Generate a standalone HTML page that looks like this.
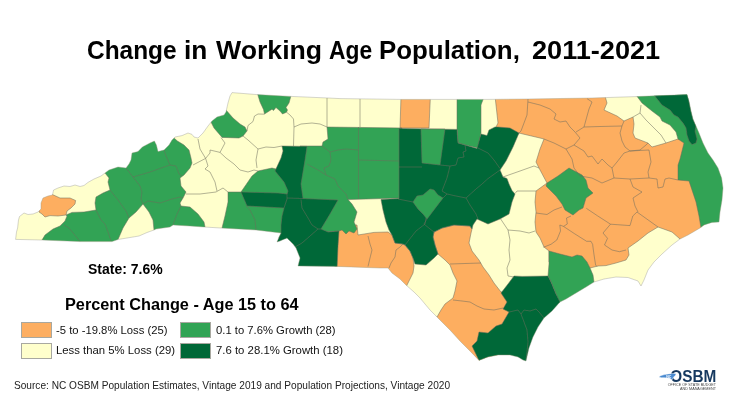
<!DOCTYPE html>
<html><head><meta charset="utf-8"><title>Change in Working Age Population</title>
<style>
html,body{margin:0;padding:0;background:#fff;}
body{width:740px;height:416px;position:relative;overflow:hidden;font-family:"Liberation Sans",sans-serif;color:#000;}
.t{position:absolute;white-space:nowrap;transform-origin:0 0;line-height:1;}
.ttl{font-weight:bold;font-size:26px;top:36.7px;color:#000;}
.sw{position:absolute;width:30.8px;height:15.6px;border:0.7px solid #a8a8a0;box-sizing:border-box;}
.lg{font-size:11px;color:#111;}
</style></head><body>
<svg width="740" height="416" viewBox="0 0 740 416" style="position:absolute;left:0;top:0">
<defs><clipPath id="st"><polygon points="15.6,239.4 16.5,232 17.6,228 18.5,220 19.5,216.5 24,213 28,214.5 33,214 38,212 41,209 41,203 43,198 48,196 52.4,195 53.6,190 58,188 64,186 70,186.5 75,185 80,186.5 84,185.5 88,182.4 94,179 101,176 105,173 109,170 118,167 126,168 129,164 131,160 132,153 138,151.6 142.4,147 150,143 154.4,141 156.4,145 158,151.6 164,150 169,145 172,140 175,137 182,135.6 188,133 192,134.4 194,137 198,138 203,133 208,126 212,121 217,117 224,115 226,112 228,103 230,96 232,92.6 257,94.6 291,96.4 328,98 340,98.6 400,99.4 488,99.4 528,99 592,98 636,96.6 687,94.6 689,101 691,111 693,119 696,126 699,133 703,143 708,153 713,160 718,168 721.6,178 723,188 722,200 720,212 719,222 712,222.4 704,225 700,228 688,235 680,239 672,245 662,254 654,262 648,270 644,280 641,286 638,281 628,277.5 616,277 604,279 594,282 586,287 576,293 566,299 560,302 552,311 544,318 538,327 533,337 529,348 526,361 523,360 518,357 510,355 498,355 488,357 479,360.4 470,351 460,341 450,330 437,317 430,310 420,298 414,292 406,285 400,279 392,273 388,268 380,268 336,266.4 298,266 300,258 296,248 293,244 287,238 280,241 277,242 279,237 281,233 256,230 221,228 204,227 190,226 173,225 170,227 156,229 154,230 147,232.5 139,236 130,237.5 118,239.5 112,241.6 80,241.6 42,240"/></clipPath><filter id="bl" x="-5%" y="-5%" width="110%" height="110%"><feGaussianBlur stdDeviation="0.45"/></filter></defs>
<g filter="url(#bl)">
<g clip-path="url(#st)">
<polygon points="15.6,239.4 16.5,232 17.6,228 18.5,220 19.5,216.5 24,213 28,214.5 33,214 38,212 41,209 41,203 43,198 48,196 52.4,195 53.6,190 58,188 64,186 70,186.5 75,185 80,186.5 84,185.5 88,182.4 94,179 101,176 105,173 109,170 118,167 126,168 129,164 131,160 132,153 138,151.6 142.4,147 150,143 154.4,141 156.4,145 158,151.6 164,150 169,145 172,140 175,137 182,135.6 188,133 192,134.4 194,137 198,138 203,133 208,126 212,121 217,117 224,115 226,112 228,103 230,96 232,92.6 257,94.6 291,96.4 328,98 340,98.6 400,99.4 488,99.4 528,99 592,98 636,96.6 687,94.6 689,101 691,111 693,119 696,126 699,133 703,143 708,153 713,160 718,168 721.6,178 723,188 722,200 720,212 719,222 712,222.4 704,225 700,228 688,235 680,239 672,245 662,254 654,262 648,270 644,280 641,286 638,281 628,277.5 616,277 604,279 594,282 586,287 576,293 566,299 560,302 552,311 544,318 538,327 533,337 529,348 526,361 523,360 518,357 510,355 498,355 488,357 479,360.4 470,351 460,341 450,330 437,317 430,310 420,298 414,292 406,285 400,279 392,273 388,268 380,268 336,266.4 298,266 300,258 296,248 293,244 287,238 280,241 277,242 279,237 281,233 256,230 221,228 204,227 190,226 173,225 170,227 156,229 154,230 147,232.5 139,236 130,237.5 118,239.5 112,241.6 80,241.6 42,240" fill="#ffffcc"/>
<polygon points="39,212 39,200 44,194 52.4,194.5 60,198 70,198 75.6,200.5 75,204 71,208 67,211 66,215 58,216 50,215.6 45,217 42,214" fill="#fdae61" stroke="#6e6e5e" stroke-width="0.7" stroke-opacity="0.75" stroke-linejoin="round"/>
<polygon points="401,96 430.4,96 429,128 400,128" fill="#fdae61" stroke="#6e6e5e" stroke-width="0.7" stroke-opacity="0.75" stroke-linejoin="round"/>
<polygon points="335,225 357,225 358,235 374,232.4 388,232 392,235 395,243 403,244 405,245 410,251 413,258 414,266 413,273 406,287 400,290 335,275" fill="#fdae61" stroke="#6e6e5e" stroke-width="0.7" stroke-opacity="0.75" stroke-linejoin="round"/>
<polygon points="434,232 442,228 454,225 470,226 472,229 471,233 469,243 472,251 479,260 483,267 489,275 494,283 501,292 520,292 520,340 485,370 465,360 430,318 437,317 441,310 445,304 453,298 455,291 457,281 453,273 450,265 445,260 438,254 435,245 433,237" fill="#fdae61" stroke="#6e6e5e" stroke-width="0.7" stroke-opacity="0.75" stroke-linejoin="round"/>
<polygon points="495,96 605,96 607,103 604,110 617,116 624,121 633,117 634,124 633,133 635,138 648,143 652,147 666,143 678,139 692,139 705,160 705,232 690,245 680,239 672,232 658,227 648,233 638,241 628,248 629,255 626,260 616,263 606,265.6 598,266 590,268 580,270 549,262 549,251 544,247 540,238 536,232 535,222 536,212 535,202 536,191 547,183 539,168 536,162 540,149 544,139 540,138 523,134 519,133 515,138 500,135 496,127 498,123" fill="#fdae61" stroke="#6e6e5e" stroke-width="0.7" stroke-opacity="0.75" stroke-linejoin="round"/>
<polygon points="105,173 109,178 108,182 110,190 103,193 96,197 95,203 96,210 84,212 72,212.4 66,215 67,216 65,221 60,226 53,229 45,235 42,240 42,246 114,246 118,239.5 123,228 129,218 136,212 143,204 149,212 153,220 154,230 154,236 175,232 205,232 205,227 204,222 198,214 190,207 181,206 180,203 183,198 186,192 181,186 180,178 184,175 190,168 192,163 191,158 189,150 184,145 177.4,141 174,138 172,132 150,135 125,155 100,170" fill="#31a354" stroke="#6e6e5e" stroke-width="0.7" stroke-opacity="0.75" stroke-linejoin="round"/>
<polygon points="210,120 216,114 226,110 233,118 240,124 245,127 247,131 243,136 239,138 222,137.4 220,135 214,128" fill="#31a354" stroke="#6e6e5e" stroke-width="0.7" stroke-opacity="0.75" stroke-linejoin="round"/>
<polygon points="257,92 291.5,94 289,103 286,107.5 287.5,110 286.5,112.2 282.5,114 280,111 276,107.5 273.5,110.5 272,109.2 270,110.5 264.5,114 263.5,109.5 260,102" fill="#31a354" stroke="#6e6e5e" stroke-width="0.7" stroke-opacity="0.75" stroke-linejoin="round"/>
<polygon points="228,192 241,192 252,176 258,171 272,168 280,170 292,195 290,240 256,234 221,232 225,216 228,202" fill="#31a354" stroke="#6e6e5e" stroke-width="0.7" stroke-opacity="0.75" stroke-linejoin="round"/>
<polygon points="327,127 402,128 402,198 348,199.6 352,204 357,212 354,222 357,229 354,233 349,231 346,234 342,230 339,231 328,232 318,232 300,200 300,146 322,146 323,142 328,139" fill="#31a354" stroke="#6e6e5e" stroke-width="0.7" stroke-opacity="0.75" stroke-linejoin="round"/>
<polygon points="457,97 484,97 481,105 481,133 478,148 465,145 458,143 457,129" fill="#31a354" stroke="#6e6e5e" stroke-width="0.7" stroke-opacity="0.75" stroke-linejoin="round"/>
<polygon points="547,183 546,186 556,196 562,204 565,210 573,215 579,210 583,208 586,198 593,193 588,188 586,180 582,175 569,168 558,176" fill="#31a354" stroke="#6e6e5e" stroke-width="0.7" stroke-opacity="0.75" stroke-linejoin="round"/>
<polygon points="549,251 560,254 572,257 577,255 582,256 587,262 590,268 593,275 594,282 600,290 560,305 556,294 551,282 548,276 549,264" fill="#31a354" stroke="#6e6e5e" stroke-width="0.7" stroke-opacity="0.75" stroke-linejoin="round"/>
<polygon points="636,95 690,90 730,170 730,225 701,228 699,216 696,202 692,190 689,181 678,180 678,165 680,159 682,151 684,143 678,139 676,132 670,125 662,121 660,117 652,111 642,103" fill="#31a354" stroke="#6e6e5e" stroke-width="0.7" stroke-opacity="0.75" stroke-linejoin="round"/>
<polygon points="282,146 307,146.4 305,160 303,172 301,184 303,198.5 338,200 330,214 321,229 328,232 339,231 338,246 337,270 290,270 275,245 281,233 281,225 282,216 284,208 247,206 241,192 278,193 287,194 288,191 284,182 275,171 281,158 283,151" fill="#006837" stroke="#6e6e5e" stroke-width="0.7" stroke-opacity="0.75" stroke-linejoin="round"/>
<polygon points="399,128.5 457,129.4 458,143 465,145 477,148.5 481,134 487,135.5 489,130 495,127 498,127 510,128 519,133 513,147 506,161 500,170 503,177 507,178.5 509,184 512,190.5 515,194 512,202 509,214 500,219 488,224 477,219 473,225 472,229 470,226 454,225 442,228 434,232 433,237 435,245 438,254 434,258 426,265 415,264 413,258 410,251 405,245 403,244 395,243 392,235 389,230 386,222 383,210 381,199.6 399,198.5" fill="#006837" stroke="#6e6e5e" stroke-width="0.7" stroke-opacity="0.75" stroke-linejoin="round"/>
<polygon points="514,276 522,276.4 548,276 551,282 556,294 560,302 560,310 530,370 475,365 479,360.4 472,346 477,341 479,332 488,333 496,326 502,324 509,312 503,309 507,302 501,293 508,284" fill="#006837" stroke="#6e6e5e" stroke-width="0.7" stroke-opacity="0.75" stroke-linejoin="round"/>
<polygon points="654,95 688,93 689,101 691,111 693,119 696,126 695,131 697,139 696,143 692,144.6 689,141 687,135 686,128 683,123 678,117 674,115 670,110 662,105" fill="#006837" stroke="#6e6e5e" stroke-width="0.7" stroke-opacity="0.75" stroke-linejoin="round"/>
<polygon points="421,129 445,129 440,165 422,163" fill="#31a354" stroke="#6e6e5e" stroke-width="0.7" stroke-opacity="0.75" stroke-linejoin="round"/>
<polygon points="413,202 417,196 423,195 430,189 434,190 438,195 443,198 427,219 423,214 418,209" fill="#31a354" stroke="#6e6e5e" stroke-width="0.7" stroke-opacity="0.75" stroke-linejoin="round"/>
<g fill="none" stroke="#6e6e5e" stroke-width="0.7" stroke-opacity="0.75" stroke-linejoin="round">
<polyline points="80,241.6 74,234 69,228 64,225"/>
<polyline points="111,241 108,232 105,224 101,220 96,210"/>
<polyline points="110,190 118,200 126,211 129,218"/>
<polyline points="126,168 133,177 140,186 142,192 141,199 143,204"/>
<polyline points="133,177 150,172 164,167 170,165"/>
<polyline points="164,150 166,156 170,165 176,166 179,174 182,176"/>
<polyline points="143,204 148,201 160,203 172,199 180,197 183,198"/>
<polyline points="181,206 177,214 174,222 173,226"/>
<polyline points="198,139 200,149 205.6,158.4 193,165"/>
<polyline points="205.6,158.4 210,153 210,150 220,152.4 225,143 221,137.6"/>
<polyline points="220,152.4 226,158 234,164 240,170 248,172 254,170 258,171"/>
<polyline points="205.6,158.4 208,166 205,169 210,172 215,182 217,191"/>
<polyline points="247,131 248,125.5 253,121.5 254.5,116 258,114 264.5,114.2"/>
<polyline points="243,136 248,140 258,149 256,160 257,168"/>
<polyline points="258,149 266,147 274,147.5 282,146"/>
<polyline points="286.5,112.2 290,115 293.5,119 294,127 293.5,146"/>
<polyline points="294,127 301,124 312,123 320,124 327,127"/>
<polyline points="327,98 327,127"/>
<polyline points="360,98.6 360,127"/>
<polyline points="358.5,127 358.5,198.5"/>
<polyline points="330,152 338,150 346,149 358.5,150"/>
<polyline points="358.5,160 399,161"/>
<polyline points="322,146 330,152 331,160 329,166 324,168 326,175"/>
<polyline points="307,164 318,170 326,175 335,179 338,186 346,194 348,199.6"/>
<polyline points="287,198 303,198.5"/>
<polyline points="301,199.6 302,208 308,218 312,225 318,229 321,229"/>
<polyline points="318,229 310,236 302,243 295,247"/>
<polyline points="287,193 287,199 284,208"/>
<polyline points="246,206 250,210 255,220 256,230"/>
<polyline points="186,194 200,194 216,192 223,188 228,192"/>
<polyline points="399,167 422,167"/>
<polyline points="440,165 450,166 456,165"/>
<polyline points="465,145 466,151 463,152 464,157 458,158 456,165"/>
<polyline points="450,166 447,178 442,191 447,194 443,198"/>
<polyline points="447,194 456,196 466,198"/>
<polyline points="478,148 488,153 494,160 500,168.5"/>
<polyline points="500,170 488,178.6 482,184 476,189 466,198"/>
<polyline points="466,198 470,205 476,214 478,219"/>
<polyline points="398,199 413,202"/>
<polyline points="427,219 424,224 430,229 434,232"/>
<polyline points="426,218 425,224 416,231 405,245"/>
<polyline points="503,177 520,171 534,166 539,168"/>
<polyline points="515,193.5 517,191 536,191"/>
<polyline points="500,218 508,230 520,231 529,233 535,231"/>
<polyline points="508,230 510,240 509,250 510,260 507,268 508,276 514,277"/>
<polyline points="509,312 518,310 521,314 524,310 530,311 536,309 539,312 544,318"/>
<polyline points="521,314 524,322 527,330 528,342 527,352 526,360"/>
<polyline points="528,99 527,115 521,131 519,133"/>
<polyline points="528,102 540,105 550,109 556,114 554,119 560,122 566,121 570,127 575,132 580,138 574,145"/>
<polyline points="587,98.6 592,102 589,109 584,127 576,132"/>
<polyline points="584,127 600,126.5 622,126 624,121"/>
<polyline points="544,139 554,143 566,149 574,145"/>
<polyline points="566,149 572,159 574,168"/>
<polyline points="574,145 584,151 588,157 592,156 598,164 602,159 608,165 612,168 617,162 624,153 630,151"/>
<polyline points="622,126 620,133 622,141 625,147 630,151 640,150 646,145 648,143"/>
<polyline points="630,151 649,150 651,162 648,172 649,178"/>
<polyline points="612,168 614,178"/>
<polyline points="574,168 580,176 592,178 602,183 614,178 630,179 649,178 657,179 658,188 663,187 665,179 669,178 678,180"/>
<polyline points="630,179 633,187 642,192 633,198 635,206 638,212"/>
<polyline points="641,105 640,113 633,117"/>
<polyline points="640,113 646,120 654,128 661,135 666,143"/>
<polyline points="453,300 462,301 470,302 477,306 484,309 494,310 503,308"/>
<polyline points="450,264 465,263.5 481,263"/>
<polyline points="403,244 400,247 396,250 395,257 391,263 389,268"/>
<polyline points="368,236 370,244 372,250 370,258 368,266.5"/>
<polyline points="586.3,208.3 597.5,215.8 610.5,224.2 630,225.6 632.8,216 637,212 658,227"/>
<polyline points="610.5,224.2 603,233 607.5,238.3 604.5,245 612,250 619.4,251.7 626,250"/>
<polyline points="536,213 547,214.5 554,210 562,207"/>
<polyline points="571,216 566.5,218 567.3,224 563.5,226.4 559.8,225 560.5,231 556.8,240 551,244.3 543.4,247.3"/>
<polyline points="563.5,226.4 574.7,233.8 586.6,241.3 591,241.3 592.6,244.3 594,254.7 595.6,265 597,266.6"/>
</g>
</g>
<polygon points="15.6,239.4 16.5,232 17.6,228 18.5,220 19.5,216.5 24,213 28,214.5 33,214 38,212 41,209 41,203 43,198 48,196 52.4,195 53.6,190 58,188 64,186 70,186.5 75,185 80,186.5 84,185.5 88,182.4 94,179 101,176 105,173 109,170 118,167 126,168 129,164 131,160 132,153 138,151.6 142.4,147 150,143 154.4,141 156.4,145 158,151.6 164,150 169,145 172,140 175,137 182,135.6 188,133 192,134.4 194,137 198,138 203,133 208,126 212,121 217,117 224,115 226,112 228,103 230,96 232,92.6 257,94.6 291,96.4 328,98 340,98.6 400,99.4 488,99.4 528,99 592,98 636,96.6 687,94.6 689,101 691,111 693,119 696,126 699,133 703,143 708,153 713,160 718,168 721.6,178 723,188 722,200 720,212 719,222 712,222.4 704,225 700,228 688,235 680,239 672,245 662,254 654,262 648,270 644,280 641,286 638,281 628,277.5 616,277 604,279 594,282 586,287 576,293 566,299 560,302 552,311 544,318 538,327 533,337 529,348 526,361 523,360 518,357 510,355 498,355 488,357 479,360.4 470,351 460,341 450,330 437,317 430,310 420,298 414,292 406,285 400,279 392,273 388,268 380,268 336,266.4 298,266 300,258 296,248 293,244 287,238 280,241 277,242 279,237 281,233 256,230 221,228 204,227 190,226 173,225 170,227 156,229 154,230 147,232.5 139,236 130,237.5 118,239.5 112,241.6 80,241.6 42,240" fill="none" stroke="#9a9a8a" stroke-width="0.6" stroke-opacity="0.7"/>
</g>
</svg>
<svg id="logo" width="90" height="40" viewBox="650 360 90 40" style="position:absolute;left:650px;top:360px">
<g filter="url(#bl2)">
<text x="670.3" y="381.9" font-family="Liberation Sans, sans-serif" font-weight="bold" font-size="15.6" textLength="46" lengthAdjust="spacingAndGlyphs" fill="#15395f">OSBM</text>
<polygon points="659.2,376.6 661.1,375.5 664.4,374.6 668.2,373.9 672.9,373.4 675.6,373.4 675.9,374.6 675,376.1 673.4,377.2 672.9,379.1 671,379.6 670.1,378.3 667.2,378.1 664.4,377.8 661.6,377.8 659.7,377.4" fill="#4a8ad0" stroke="#fff" stroke-width="0.5"/>
<text x="666.2" y="377.9" font-family="Liberation Sans, sans-serif" font-weight="bold" font-size="3.6" fill="#fff">NC</text>
<text x="667.7" y="385.5" font-family="Liberation Sans, sans-serif" font-size="2.9" textLength="48.3" lengthAdjust="spacingAndGlyphs" fill="#444">OFFICE OF STATE BUDGET</text>
<text x="680" y="389.8" font-family="Liberation Sans, sans-serif" font-size="2.9" textLength="36" lengthAdjust="spacingAndGlyphs" fill="#444">AND MANAGEMENT</text>
</g>
<defs><filter id="bl2"><feGaussianBlur stdDeviation="0.25"/></filter></defs>
</svg>
<div class="t ttl" id="w1" style="left:86.5px;transform:scaleX(0.940)">Change</div>
<div class="t ttl" id="w2" style="left:183.9px;transform:scaleX(1.01)">in</div>
<div class="t ttl" id="w3" style="left:215.5px;transform:scaleX(1.025)">Working</div>
<div class="t ttl" id="w4" style="left:328.5px;transform:scaleX(0.878)">Age</div>
<div class="t ttl" id="w5" style="left:379.2px;transform:scaleX(0.995)">Population,</div>
<div class="t ttl" id="w6" style="left:531.7px;transform:scaleX(1.043)">2011-2021</div>
<div class="t" id="stt" style="left:87.9px;top:262.8px;font-weight:bold;font-size:13.8px;transform:scaleX(1.014);">State: 7.6%</div>
<div class="t" id="hd" style="left:65.4px;top:296.95px;font-weight:bold;font-size:16px;transform:scaleX(1.017);">Percent Change - Age 15 to 64</div>
<div class="sw" style="left:20.9px;top:322.4px;background:#fdae61"></div>
<div class="sw" style="left:20.9px;top:343.1px;background:#ffffcc"></div>
<div class="sw" style="left:180.3px;top:322.4px;background:#31a354"></div>
<div class="sw" style="left:180.3px;top:343.1px;background:#006837"></div>
<div class="t lg" id="l1" style="left:56.2px;top:325.3px;transform:scaleX(1.025)">-5 to -19.8% Loss (25)</div>
<div class="t lg" id="l2" style="left:56.2px;top:345.4px;transform:scaleX(1.03)">Less than 5% Loss (29)</div>
<div class="t lg" id="l3" style="left:216px;top:325.3px;transform:scaleX(1.024)">0.1 to 7.6% Growth (28)</div>
<div class="t lg" id="l4" style="left:215.5px;top:345.4px;transform:scaleX(1.033)">7.6 to 28.1% Growth (18)</div>
<div class="t" id="src" style="left:13.5px;top:381px;font-size:10.2px;color:#222;transform:scaleX(0.993);">Source: NC OSBM Population Estimates, Vintage 2019 and Population Projections, Vintage 2020</div>
</body></html>
